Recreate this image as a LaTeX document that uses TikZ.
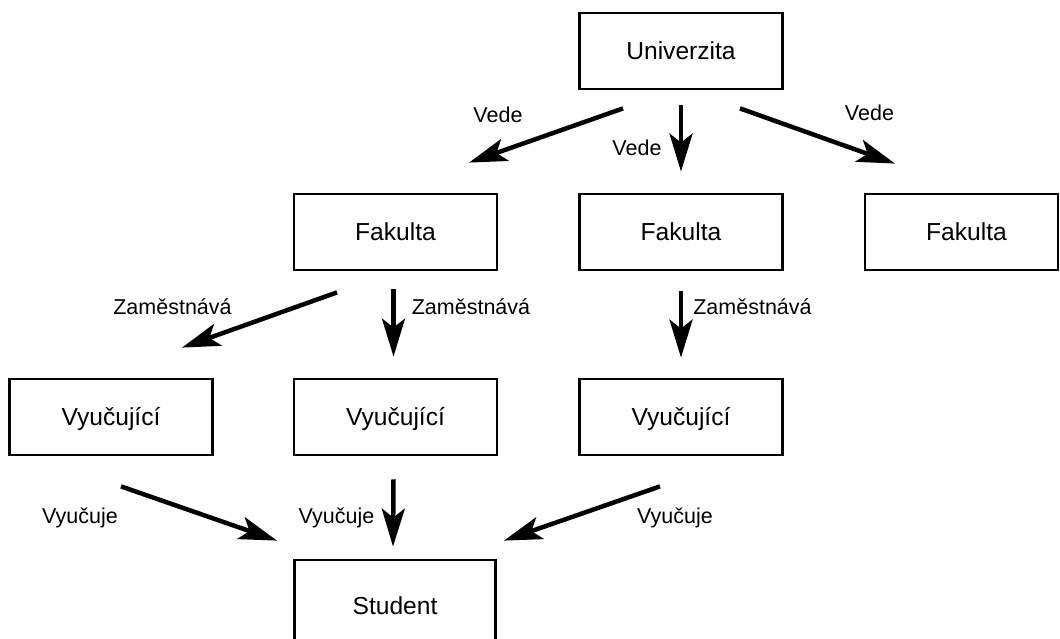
\documentclass[tikz,border=0pt]{standalone}
\usepackage{fontspec}
\setmainfont{Liberation Sans}
\usetikzlibrary{arrows.meta,calc}

\tikzset{
  box/.style={draw=black, line width=2.8pt, fill=white, minimum width=203pt,
    minimum height=76pt, inner sep=0pt, text height=17.7pt, text depth=0pt,
    font=\fontsize{24.6}{29}\selectfont},
  rel/.style={anchor=base, inner sep=0pt, font=\fontsize{21.5}{26}\selectfont},
  link/.style={line width=4.5pt, -{Stealth[length=38pt, width=23pt, inset=9pt]}},
}

\begin{document}
\begin{tikzpicture}[x=1pt, y=1pt]
  \useasboundingbox (0,0) rectangle (1060,-638);
  \clip (0,0) rectangle (1060,-638);

  % entities
  \node[box] (u)  at (681,-51)    {Univerzita};
  \node[box] (f1) at (395.5,-232) {Fakulta};
  \node[box] (f2) at (681,-232)   {Fakulta};
  \node[box, minimum width=193pt] (f3) at (961.5,-232) {\hspace*{10pt}Fakulta};
  \node[box] (v1) at (111,-417)   {Vyučující};
  \node[box] (v2) at (395.5,-417) {Vyučující};
  \node[box] (v3) at (681,-417)   {Vyučující};
  \node[box, minimum width=201pt, minimum height=92pt] (s) at (395,-606) {Student};

  % arrow end points
  \coordinate (a1) at ($(u.south)+(-58,-18)$);
  \coordinate (b1) at ($(f1.north)+(73.5,30)$);
  \coordinate (a2) at ($(u.south)+(0,-15)$);
  \coordinate (b2) at ($(f2.north)+(0,21)$);
  \coordinate (a3) at ($(u.south)+(59,-18)$);
  \coordinate (b3) at ($(f3.north)+(-66.5,29)$);
  \coordinate (a4) at ($(f1.south)+(-58.5,-21)$);
  \coordinate (b4) at ($(v1.north)+(71,30)$);
  \coordinate (a5) at ($(f1.south)+(-2,-18)$);
  \coordinate (b5) at ($(v2.north)+(-2,21)$);
  \coordinate (a6) at ($(f2.south)+(0,-20)$);
  \coordinate (b6) at ($(v3.north)+(0,20)$);
  \coordinate (a7) at ($(v1.south)+(10,-30)$);
  \coordinate (b7) at ($(s.north)+(-118,18)$);
  \coordinate (a8) at ($(v2.south)+(-2,-23)$);
  \coordinate (b8) at ($(s.north)+(-2,12)$);
  \coordinate (a9) at ($(v3.south)+(-21,-30)$);
  \coordinate (b9) at ($(s.north)+(109,18)$);

  % relations
  \draw[link] (a1) -- (b1);
  \draw[link] (a2) -- (b2);
  \draw[link] (a3) -- (b3);
  \draw[link] (a4) -- (b4);
  \draw[link] (a5) -- (b5);
  \draw[link] (a6) -- (b6);
  \draw[link] (a7) -- (b7);
  \draw[link] (a8) -- (b8);
  \draw[link] (a9) -- (b9);

  % relation labels
  \node[rel] (l1) at (498,-122)   {Vede};
  \node[rel] (l2) at (637,-155)   {Vede};
  \node[rel] (l3) at (869.5,-120) {Vede};
  \node[rel] (l4) at (172.5,-314) {Zaměstnává};
  \node[rel] (l5) at (471,-314)   {Zaměstnává};
  \node[rel] (l6) at (752.5,-314) {Zaměstnává};
  \node[rel] (l7) at (80,-523)    {Vyučuje};
  \node[rel] (l8) at (336.5,-523) {Vyučuje};
  \node[rel] (l9) at (675,-523)   {Vyučuje};
\end{tikzpicture}
\end{document}
